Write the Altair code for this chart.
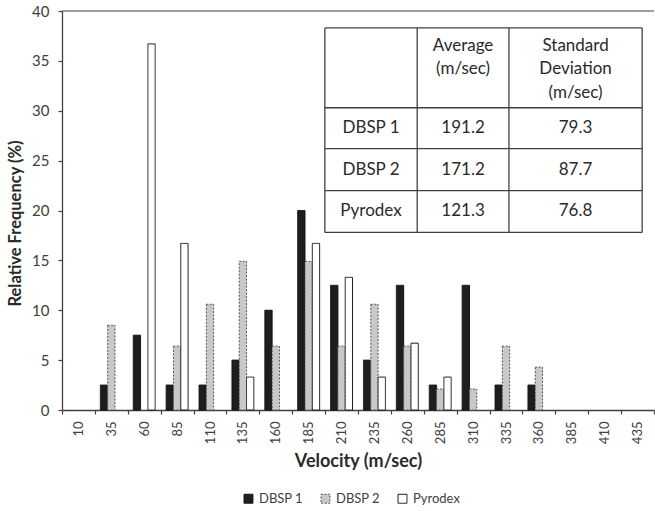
import altair as alt
import pandas as pd

# Velocity bins (m/sec) and relative frequency (%) per propellant
velocity = ["10", "35", "60", "85", "110", "135", "160", "185", "210",
            "235", "260", "285", "310", "335", "360", "385", "410", "435"]
series_names = ["DBSP 1", "DBSP 2", "Pyrodex"]
dbsp1 = [0, 2.5, 7.5, 2.5, 2.5, 5, 10, 20, 12.5, 5, 12.5, 2.5, 12.5, 2.5, 2.5, 0, 0, 0]
dbsp2 = [0, 8.5, 0, 6.4, 10.6, 14.9, 6.4, 14.9, 6.4, 10.6, 6.4, 2.1, 2.1, 6.4, 4.3, 0, 0, 0]
pyrodex = [0, 0, 36.7, 16.7, 0, 3.3, 0, 16.7, 13.3, 3.3, 6.7, 3.3, 0, 0, 0, 0, 0, 0]

# Summary statistics table
table_header_avg = ["Average", "(m/sec)"]
table_header_sd = ["Standard", "Deviation", "(m/sec)"]
table_average = ["191.2", "171.2", "121.3"]
table_stdev = ["79.3", "87.7", "76.8"]

FONT = "Lato"
INK = "#404040"

rows = []
for name, vals in zip(series_names, [dbsp1, dbsp2, pyrodex]):
    for v, f in zip(velocity, vals):
        if f > 0:
            rows.append({"velocity": v, "series": name, "freq": f})
df = pd.DataFrame(rows)

fills = ["#1e1e1e", "#c8c8c8", "#ffffff"]
strokes = ["#111111", "#555555", "#1a1a1a"]
dashes = [[1, 0], [2, 1.5], [1, 0]]

bars = alt.Chart(df).mark_bar(strokeWidth=1).encode(
    x=alt.X(
        "velocity:O",
        sort=velocity,
        scale=alt.Scale(domain=velocity, paddingInner=0, paddingOuter=0),
        axis=alt.Axis(
            title="Velocity (m/sec)",
            labelAngle=-90,
            tickBand="extent",
            tickSize=4,
            labelPadding=7,
            labelFontSize=13,
            titlePadding=9,
            titleFontSize=18,
        ),
    ),
    xOffset=alt.XOffset(
        "series:N",
        sort=series_names,
        scale=alt.Scale(domain=series_names, paddingInner=0, paddingOuter=0.75),
    ),
    y=alt.Y(
        "freq:Q",
        scale=alt.Scale(domain=[0, 40]),
        axis=alt.Axis(
            title="Relative Frequency (%)",
            values=list(range(0, 45, 5)),
            grid=False,
            tickSize=4,
            labelPadding=9,
            labelFontSize=15,
            titlePadding=8,
            titleFontSize=16.5,
            titleY=212,
        ),
    ),
    fill=alt.Fill("series:N", sort=series_names,
                  scale=alt.Scale(domain=series_names, range=fills),
                  legend=alt.Legend(title=None)),
    stroke=alt.Stroke("series:N", sort=series_names,
                      scale=alt.Scale(domain=series_names, range=strokes),
                      legend=alt.Legend(title=None)),
    strokeDash=alt.StrokeDash("series:N", sort=series_names,
                              scale=alt.Scale(domain=series_names, range=dashes),
                              legend=alt.Legend(title=None)),
)

# Top border of the plot area at 40 %
top_line = alt.Chart(pd.DataFrame({"v": [40]})).mark_rule(
    color=INK, strokeWidth=1.2
).encode(y="v:Q")

# Table layout: column edges as fractions of plot width, row edges in % units
col_edges = [0.444, 0.600, 0.755, 0.980]
row_edges = [38.3, 30.3, 26.2, 22.0, 17.8]
col_centers = [(a + b) / 2 for a, b in zip(col_edges[:-1], col_edges[1:])]

lines = []
for y in row_edges:
    lines.append({"x": col_edges[0], "x2": col_edges[-1], "y": y, "y2": y})
for x in col_edges:
    lines.append({"x": x, "x2": x, "y": row_edges[0], "y2": row_edges[-1]})
lines_df = pd.DataFrame(lines)

header_line_y = [36.5, 34.15, 31.75]
texts = []
for i, t in enumerate(table_header_avg):
    texts.append({"x": col_centers[1], "y": header_line_y[i], "t": t})
for i, t in enumerate(table_header_sd):
    texts.append({"x": col_centers[2], "y": header_line_y[i], "t": t})
for r, (name, avg, sd) in enumerate(zip(series_names, table_average, table_stdev)):
    yc = (row_edges[r + 1] + row_edges[r + 2]) / 2
    texts.append({"x": col_centers[0], "y": yc, "t": name})
    texts.append({"x": col_centers[1], "y": yc, "t": avg})
    texts.append({"x": col_centers[2], "y": yc, "t": sd})
texts_df = pd.DataFrame(texts)

tx = alt.X("x:Q", scale=alt.Scale(domain=[0, 1]), axis=None)

table_lines = alt.Chart(lines_df).mark_rule(color=INK, strokeWidth=1.3).encode(
    x=tx, x2="x2:Q", y="y:Q", y2="y2:Q"
)
table_text = alt.Chart(texts_df).mark_text(
    font=FONT, fontSize=17, color="#2a2a2a", align="center", baseline="middle"
).encode(x=tx, y="y:Q", text="t:N")

chart = (
    alt.layer(bars, top_line, table_lines, table_text)
    .resolve_scale(x="independent")
    .properties(
        width=592,
        height=399,
        autosize="none",
        padding={"left": 62, "top": 11, "right": 1, "bottom": 101},
    )
    .configure_view(stroke=None)
    .configure_axis(
        labelFont=FONT,
        titleFont=FONT,
        labelColor=INK,
        titleColor="#2a2a2a",
        titleFontWeight="bold",
        domainColor=INK,
        tickColor=INK,
        domainWidth=1.3,
        tickWidth=1.2,
    )
    .configure_legend(
        orient="none",
        legendX=180,
        legendY=481,
        direction="horizontal",
        symbolType="square",
        symbolSize=80,
        symbolStrokeWidth=1,
        labelFont=FONT,
        labelFontSize=13,
        labelColor=INK,
        columnPadding=15,
        labelOffset=4,
    )
)

chart.save("out.html", embed_options={"renderer": "svg", "actions": False})
